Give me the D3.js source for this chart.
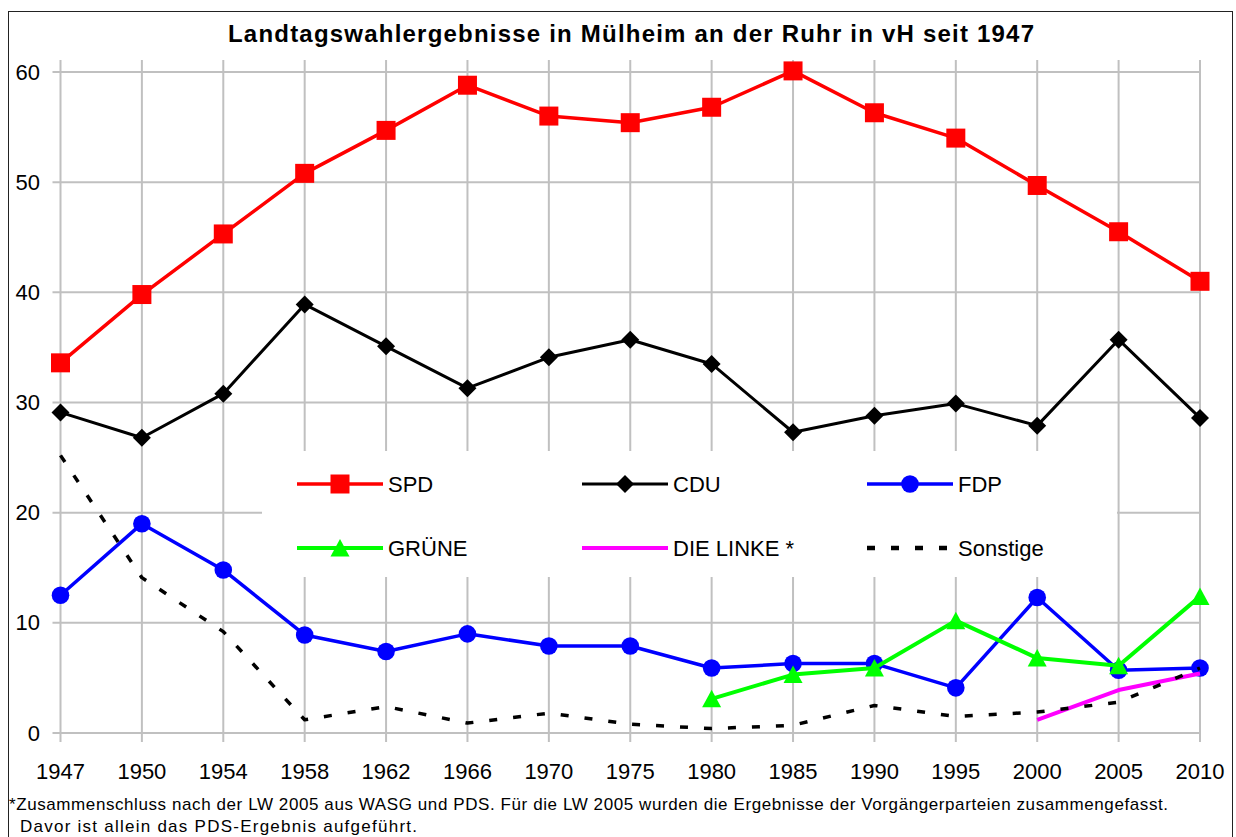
<!DOCTYPE html>
<html>
<head>
<meta charset="utf-8">
<script src="https://cdn.jsdelivr.net/npm/d3@7"></script>
<style>
  html, body { margin: 0; padding: 0; background: #fff; }
  svg { display: block; font-family: "Liberation Sans", Arial, sans-serif; }
</style>
</head>
<body>
<svg id="chart" width="1236" height="837"></svg>
<script>
// ---- data ----
const years = ["1947","1950","1954","1958","1962","1966","1970","1975","1980","1985","1990","1995","2000","2005","2010"];
const spd      = [33.6, 39.8, 45.3, 50.8, 54.7, 58.8, 56.0, 55.4, 56.8, 60.1, 56.3, 54.0, 49.7, 45.5, 41.0];
const cdu      = [29.1, 26.8, 30.8, 38.9, 35.1, 31.3, 34.1, 35.7, 33.5, 27.3, 28.8, 29.9, 27.9, 35.7, 28.6];
const fdp      = [12.5, 19.0, 14.8, 8.9, 7.4, 9.0, 7.9, 7.9, 5.9, 6.3, 6.3, 4.1, 12.3, 5.7, 5.9];
const gruene   = [null, null, null, null, null, null, null, null, 3.1, 5.3, 5.9, 10.2, 6.8, 6.1, 12.4];
const linke    = [null, null, null, null, null, null, null, null, null, null, null, null, 1.2, 3.9, 5.4];
const sonstige = [25.2, 14.1, 9.2, 1.2, 2.4, 0.9, 1.8, 0.8, 0.4, 0.7, 2.5, 1.5, 1.9, 2.8, 5.9];
const yTicks = [0, 10, 20, 30, 40, 50, 60];
const seriesNames = ["SPD", "CDU", "FDP", "GRÜNE", "DIE LINKE *", "Sonstige"];
const title = "Landtagswahlergebnisse in Mülheim an der Ruhr in vH seit 1947";
const footnote1 = "*Zusammenschluss nach der LW 2005 aus WASG und PDS. Für die LW 2005 wurden die Ergebnisse der Vorgängerparteien zusammengefasst.";
const footnote2 = "Davor ist allein das PDS-Ergebnis aufgeführt.";

// ---- setup ----
const svg = d3.select("#chart");
const x = d3.scalePoint().domain(years).range([60.5, 1200]);
const y = d3.scaleLinear().domain([0, 60]).range([733, 72]);

// outer border
svg.append("rect").attr("x", 8.5).attr("y", 11.5).attr("width", 1224).attr("height", 840)
  .attr("fill", "#fff").attr("stroke", "#222").attr("stroke-width", 1);

// title
svg.append("text").attr("x", 228).attr("y", 42)
  .attr("font-size", 24).attr("font-weight", "bold")
  .attr("textLength", 806).attr("lengthAdjust", "spacing")
  .text(title);

// gridlines
const grid = svg.append("g").attr("stroke", "#c0c0c0").attr("stroke-width", 2);
grid.selectAll("line.v").data(years).enter().append("line")
  .attr("x1", d => x(d)).attr("x2", d => x(d))
  .attr("y1", y(60) - 12).attr("y2", y(0) + 9);
grid.selectAll("line.h").data(yTicks).enter().append("line")
  .attr("x1", x(years[0]) - 8).attr("x2", x(years[years.length - 1]))
  .attr("y1", d => y(d)).attr("y2", d => y(d));

// y labels
svg.append("g").selectAll("text").data(yTicks).enter().append("text")
  .attr("x", 40).attr("y", d => y(d) + 7.5)
  .attr("text-anchor", "end").attr("font-size", 22)
  .text(d => d);

// x labels
svg.append("g").selectAll("text").data(years).enter().append("text")
  .attr("x", d => x(d)).attr("y", 779)
  .attr("text-anchor", "middle").attr("font-size", 22)
  .text(d => d);

// legend background
svg.append("rect").attr("x", 262).attr("y", 451).attr("width", 855).attr("height", 126).attr("fill", "#fff");

// marker shapes
function markerPath(type) {
  if (type === "square") return "M-9.5,-9.5H9.5V9.5H-9.5Z";
  if (type === "diamond") return "M0,-9L9,0L0,9L-9,0Z";
  if (type === "triangle") return "M0,-9L9.5,8.5L-9.5,8.5Z";
  return null;
}

const series = [
  { name: seriesNames[0], values: spd, color: "#ff0000", width: 3.5, marker: "square" },
  { name: seriesNames[1], values: cdu, color: "#000000", width: 3, marker: "diamond" },
  { name: seriesNames[2], values: fdp, color: "#0000ff", width: 3.5, marker: "circle" },
  { name: seriesNames[3], values: gruene, color: "#00ff00", width: 4, marker: "triangle" },
  { name: seriesNames[4], values: linke, color: "#ff00ff", width: 4, marker: null },
  { name: seriesNames[5], values: sonstige, color: "#000000", width: 3.5, marker: null, dash: "8,16" }
];

const line = d3.line()
  .defined(d => d.v !== null)
  .x(d => x(d.year)).y(d => y(d.v));

function drawMarker(g, type, color, cx, cy) {
  if (type === "circle") {
    g.append("circle").attr("cx", cx).attr("cy", cy).attr("r", 8.8).attr("fill", color);
  } else if (type) {
    g.append("path").attr("d", markerPath(type)).attr("transform", `translate(${cx},${cy})`).attr("fill", color);
  }
}

series.forEach(s => {
  const pts = years.map((yr, i) => ({ year: yr, v: s.values[i] }));
  const g = svg.append("g");
  g.append("path").datum(pts).attr("d", line)
    .attr("fill", "none").attr("stroke", s.color).attr("stroke-width", s.width)
    .attr("stroke-linejoin", "round")
    .attr("stroke-dasharray", s.dash || null);
  pts.filter(p => p.v !== null).forEach(p => drawMarker(g, s.marker, s.color, x(p.year), y(p.v)));
});

// legend
const legCols = [297, 582, 867];
const legRows = [484, 548];
series.forEach((s, i) => {
  const lx = legCols[i % 3], ly = legRows[Math.floor(i / 3)];
  const g = svg.append("g");
  g.append("line").attr("x1", lx).attr("x2", lx + (s.dash ? 80 : 86)).attr("y1", ly).attr("y2", ly)
    .attr("stroke", s.color).attr("stroke-width", s.dash ? 4.5 : s.width)
    .attr("stroke-dasharray", s.dash || null);
  drawMarker(g, s.marker, s.color, lx + 43, ly);
  g.append("text").attr("x", lx + 91).attr("y", ly + 8).attr("font-size", 22).text(s.name);
});

// footnote
svg.append("text").attr("x", 9).attr("y", 810).attr("font-size", 17)
  .attr("textLength", 1159).attr("lengthAdjust", "spacing").text(footnote1);
svg.append("text").attr("x", 20).attr("y", 832).attr("font-size", 17)
  .attr("textLength", 397).attr("lengthAdjust", "spacing").text(footnote2);
</script>
</body>
</html>
